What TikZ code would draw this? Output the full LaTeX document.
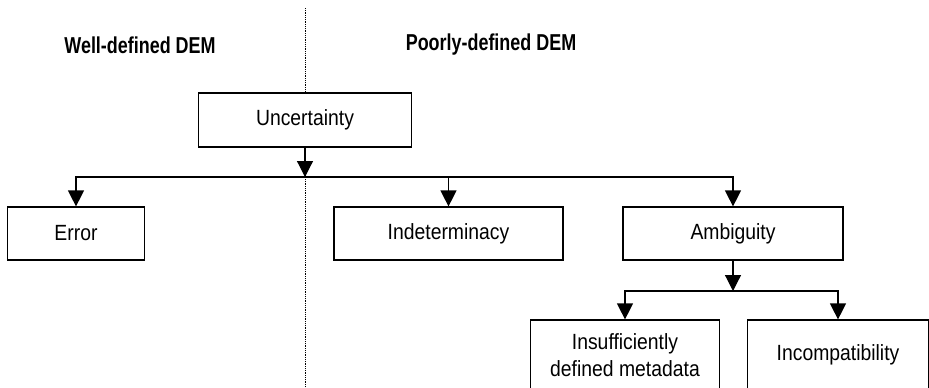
\documentclass[tikz,border=0pt]{standalone}
\usepackage{fontspec}
\setmainfont{Liberation Sans}
\newfontfamily\boxfont[FakeStretch=0.88]{Liberation Sans}
\newfontfamily\titlefont[FakeStretch=0.78]{Liberation Sans}
\usetikzlibrary{arrows.meta}
\begin{document}
\begin{tikzpicture}[x=1pt,y=-1pt,
  box/.style={draw,fill=white,line width=1.2pt,rectangle,inner sep=0pt,align=center,
    font=\boxfont\fontsize{22}{27}\selectfont},
  arr/.style={line width=1.2pt,-{Triangle[width=16pt,length=16pt]}},
  conn/.style={line width=1.2pt},
  ttl/.style={font=\titlefont\fontsize{23}{27}\selectfont\bfseries},
  divider/.style={line width=0.9pt,dash pattern=on 0.9pt off 0.9pt}]
\useasboundingbox (0,0) rectangle (929,388);
\clip (0,0) rectangle (929,388);
\coordinate (dtop) at (305,8);
\coordinate (dbot) at (305,388);
\draw[divider] (dtop) -- (dbot);
\node[ttl] (t1) at (140,45) {Well-defined DEM};
\node[ttl] (t2) at (491,45) {Poorly-defined DEM};
\node[box,minimum width=213pt,minimum height=54pt] (unc) at (305,120) {Uncertainty};
\node[box,minimum width=137pt,minimum height=53pt] (err) at (76,233.5) {Error};
\node[box,minimum width=229pt,minimum height=53pt] (ind) at (448.5,233.5) {Indeterminacy};
\node[box,minimum width=220pt,minimum height=53pt] (amb) at (733,233.5) {Ambiguity};
\node[box,minimum width=189pt,minimum height=70pt] (ins) at (625,355) {Insufficiently\\defined metadata};
\node[box,minimum width=181pt,minimum height=70pt] (inc) at (838,355) {Incompatibility};
\coordinate (j1) at (305,177);
\coordinate (j2) at (733,291);
\draw[arr] (unc) -- (j1);
\draw[conn] (err.north |- j1) -- (amb.north |- j1);
\draw[arr] (j1) -| (err.north);
\draw[arr] (j1) -| (ind.north);
\draw[arr] (j1) -| (amb.north);
\draw[arr] (amb) -- (j2);
\draw[conn] (ins.north |- j2) -- (inc.north |- j2);
\draw[arr] (j2) -| (ins.north);
\draw[arr] (j2) -| (inc.north);
\end{tikzpicture}
\end{document}
